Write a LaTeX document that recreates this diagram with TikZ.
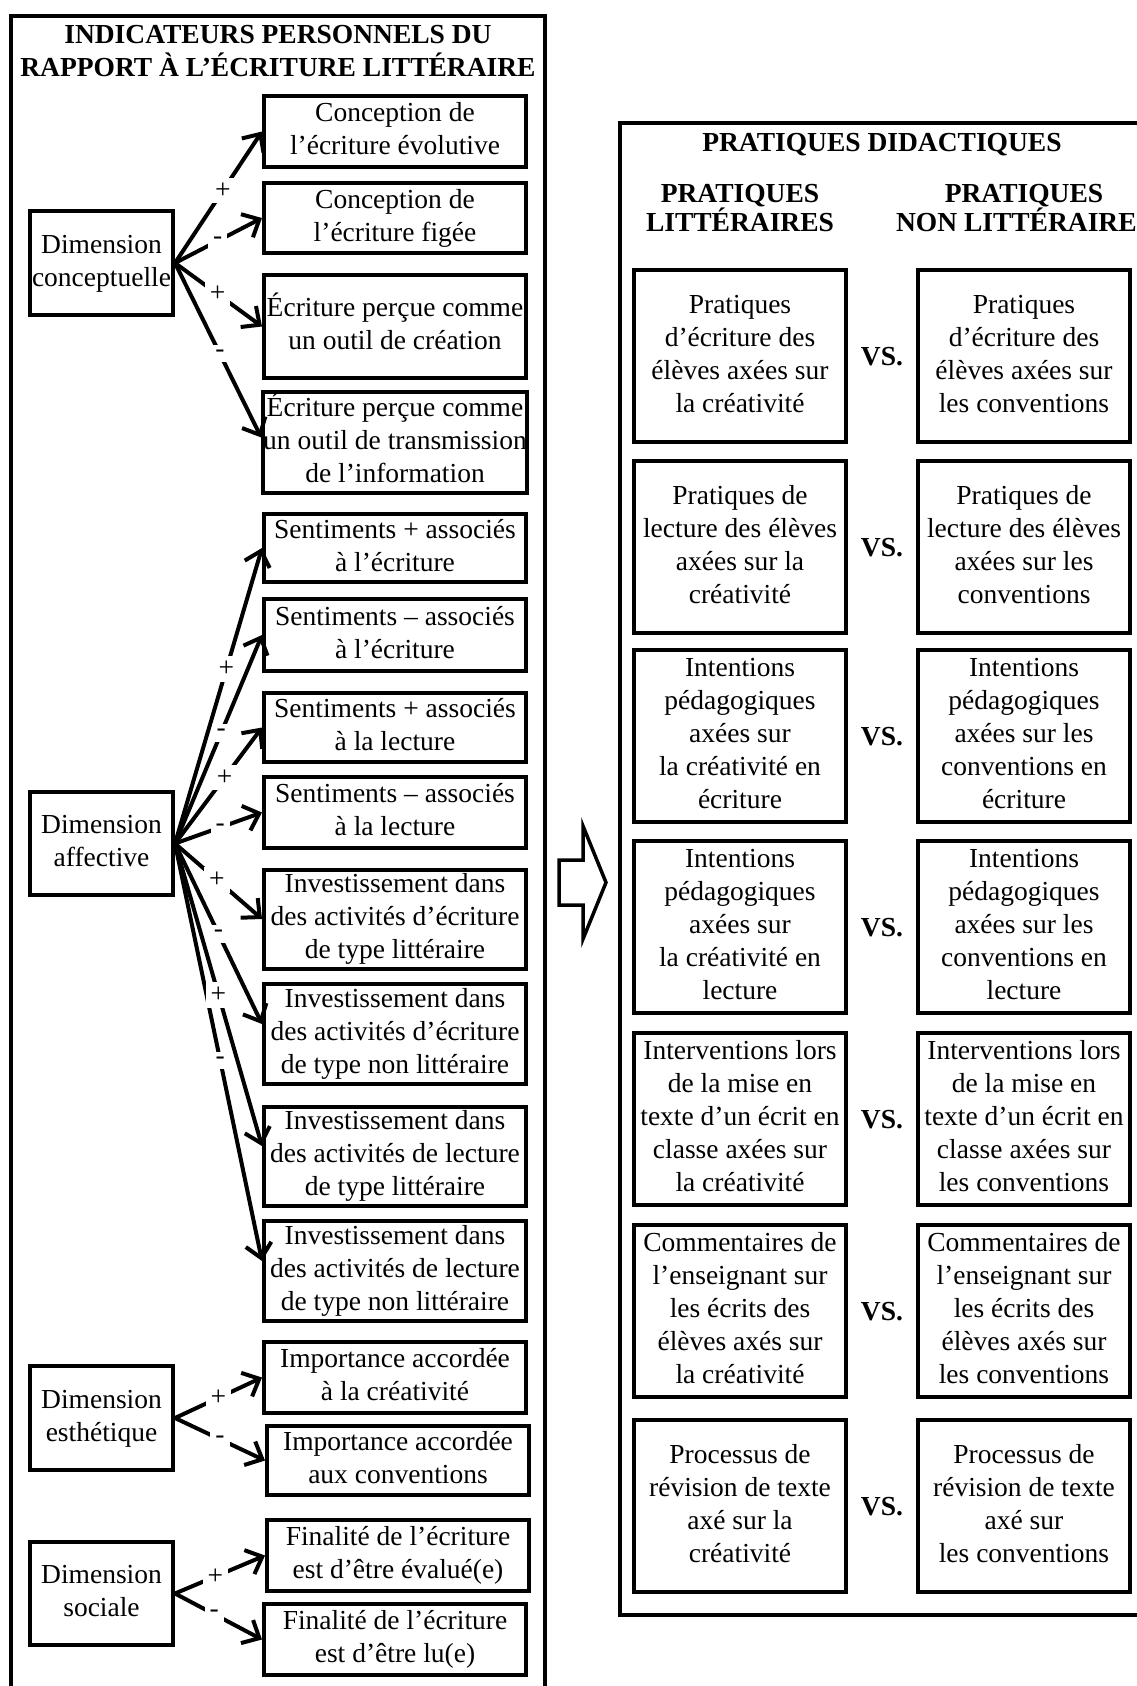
\documentclass[tikz,border=0pt]{standalone}
\usepackage{fontspec}
\setmainfont{Liberation Serif}
\usetikzlibrary{arrows.meta}
\newcommand{\myfs}{\fontsize{27.5}{33}\selectfont}
\newcommand{\bx}[6]{\node[box, minimum width={#4-#2-4}, minimum height={#5-#3-4}] (#1) at ({(#2+#4)/2},{(#3+#5)/2}) {\strut #6\strut};}
\begin{document}
\begin{tikzpicture}[x=1pt,y=-1pt,
  box/.style={draw, line width=4pt, inner xsep=0pt, inner ysep=0pt, align=center, font=\myfs},
  arr/.style={line width=4pt, -{Straight Barb[length=14pt,width=26pt]}},
  lab/.style={fill=white, inner sep=5pt, font=\myfs},
  hd/.style={font=\myfs\bfseries, anchor=base, inner sep=0pt},
  frame/.style={line width=4pt}
]
\useasboundingbox (0,0) rectangle (1136,1686);

% outer frames
\draw[frame] (11,16) rectangle (545,1720);
\draw[frame] (620,123) rectangle (1150,1615);

% left title
\node[hd] (t1) at (278,44) {INDICATEURS PERSONNELS DU};
\node[hd] (t2) at (278,77) {RAPPORT À L’ÉCRITURE LITTÉRAIRE};

% dimension boxes
\bx{d1}{28}{209}{175}{317}{Dimension\\conceptuelle}
\bx{d2}{28}{790}{175}{897}{Dimension\\affective}
\bx{d3}{28}{1364}{175}{1472}{Dimension\\esthétique}
\bx{d4}{28}{1540}{175}{1647}{Dimension\\sociale}

% indicator boxes
\bx{b1}{262}{94}{528}{169}{Conception de\\l’écriture évolutive}
\bx{b2}{262}{181}{528}{255}{Conception de\\l’écriture figée}
\bx{b3}{262}{273}{528}{380}{Écriture perçue comme\\un outil de création}
\bx{b4}{262}{390}{528}{495}{Écriture perçue comme\\un outil de transmission\\de l’information}
\bx{b5}{262}{512}{528}{584}{Sentiments + associés\\à l’écriture}
\bx{b6}{262}{597}{528}{673}{Sentiments – associés\\à l’écriture}
\bx{b7}{262}{691}{528}{764}{Sentiments + associés\\à la lecture}
\bx{b8}{262}{775}{528}{850}{Sentiments – associés\\à la lecture}
\bx{b9}{262}{868}{528}{970}{Investissement dans\\des activités d’écriture\\de type littéraire}
\bx{b10}{262}{982}{528}{1086}{Investissement dans\\des activités d’écriture\\de type non littéraire}
\bx{b11}{262}{1105}{528}{1207}{Investissement dans\\des activités de lecture\\de type littéraire}
\bx{b12}{262}{1219}{528}{1323}{Investissement dans\\des activités de lecture\\de type non littéraire}
\bx{b13}{262}{1340}{528}{1415}{Importance accordée\\à la créativité}
\bx{b14}{265}{1424}{531}{1497}{Importance accordée\\aux conventions}
\bx{b15}{265}{1518}{531}{1593}{Finalité de l’écriture\\est d’être évalué(e)}
\bx{b16}{262}{1602}{528}{1677}{Finalité de l’écriture\\est d’être lu(e)}

% arrows
\draw[arr] (d1.east) -- (b1.west);
\draw[arr] (d1.east) -- (b2.west);
\draw[arr] (d1.east) -- (b3.west);
\draw[arr] (d1.east) -- ([yshift=5pt]b4.west);
\draw[arr] (d2.east) -- (b5.west);
\draw[arr] (d2.east) -- (b6.west);
\draw[arr] (d2.east) -- (b7.west);
\draw[arr] (d2.east) -- (b8.west);
\draw[arr] (d2.east) -- (b9.west);
\draw[arr] (d2.east) -- ([yshift=10pt]b10.west);
\draw[arr] (d2.east) -- ([yshift=10pt]b11.west);
\draw[arr] (d2.east) -- ([yshift=10pt]b12.west);
\draw[arr] (d3.east) -- (b13.west);
\draw[arr] (d3.east) -- (b14.west);
\draw[arr] (d4.east) -- (b15.west);
\draw[arr] (d4.east) -- (b16.west);

% arrow labels
\path (d1.east) -- node[lab,pos=0.55]{+} (b1.west);
\path (d1.east) -- node[lab,pos=0.49]{-} (b2.west);
\path (d1.east) -- node[lab,pos=0.49]{+} (b3.west);
\path (d1.east) -- node[lab,pos=0.52]{-} ([yshift=5pt]b4.west);
\path (d2.east) -- node[lab,pos=0.59]{+} (b5.west);
\path (d2.east) -- node[lab,pos=0.53]{-} (b6.west);
\path (d2.east) -- node[lab,pos=0.57]{+} (b7.west);
\path (d2.east) -- node[lab,pos=0.52]{-} (b8.west);
\path (d2.east) -- node[lab,pos=0.48]{+} (b9.west);
\path (d2.east) -- node[lab,pos=0.50]{-} ([yshift=10pt]b10.west);
\path (d2.east) -- node[lab,pos=0.50]{+} ([yshift=10pt]b11.west);
\path (d2.east) -- node[lab,pos=0.52]{-} ([yshift=10pt]b12.west);
\path (d3.east) -- node[lab,pos=0.50]{+} (b13.west);
\path (d3.east) -- node[lab,pos=0.50]{-} (b14.west);
\path (d4.east) -- node[lab,pos=0.45]{+} (b15.west);
\path (d4.east) -- node[lab,pos=0.45]{-} (b16.west);

% big outline arrow
\draw[line width=3.5pt, line join=miter] (559,860) -- (583,860) -- (583,826) -- (606,882.5) -- (583,939) -- (583,905) -- (559,905) -- cycle;

% right panel headings
\node[hd] (rt) at (882,151) {PRATIQUES DIDACTIQUES};
\node[hd] (ra1) at (740,202) {PRATIQUES};
\node[hd] (ra2) at (740,231) {LITTÉRAIRES};
\node[hd] (rb1) at (1024,202) {PRATIQUES};
\node[hd] (rb2) at (1024,231) {NON LITTÉRAIRES};

% rows
\bx{l1}{632}{268}{848}{444}{Pratiques\\d’écriture des\\élèves axées sur\\la créativité}
\bx{r1}{916}{268}{1132}{444}{Pratiques\\d’écriture des\\élèves axées sur\\les conventions}
\node[hd] (v1) at (882,365) {VS.};

\bx{l2}{632}{459}{848}{635}{Pratiques de\\lecture des élèves\\axées sur la\\créativité}
\bx{r2}{916}{459}{1132}{635}{Pratiques de\\lecture des élèves\\axées sur les\\conventions}
\node[hd] (v2) at (882,556) {VS.};

\bx{l3}{632}{648}{848}{824}{Intentions\\pédagogiques\\axées sur\\la créativité en\\écriture}
\bx{r3}{916}{648}{1132}{824}{Intentions\\pédagogiques\\axées sur les\\conventions en\\écriture}
\node[hd] (v3) at (882,745) {VS.};

\bx{l4}{632}{839}{848}{1015}{Intentions\\pédagogiques\\axées sur\\la créativité en\\lecture}
\bx{r4}{916}{839}{1132}{1015}{Intentions\\pédagogiques\\axées sur les\\conventions en\\lecture}
\node[hd] (v4) at (882,936) {VS.};

\bx{l5}{632}{1031}{848}{1207}{Interventions lors\\de la mise en\\texte d’un écrit en\\classe axées sur\\la créativité}
\bx{r5}{916}{1031}{1132}{1207}{Interventions lors\\de la mise en\\texte d’un écrit en\\classe axées sur\\les conventions}
\node[hd] (v5) at (882,1128) {VS.};

\bx{l6}{632}{1223}{848}{1399}{Commentaires de\\l’enseignant sur\\les écrits des\\élèves axés sur\\la créativité}
\bx{r6}{916}{1223}{1132}{1399}{Commentaires de\\l’enseignant sur\\les écrits des\\élèves axés sur\\les conventions}
\node[hd] (v6) at (882,1320) {VS.};

\bx{l7}{632}{1418}{848}{1594}{Processus de\\révision de texte\\axé sur la\\créativité}
\bx{r7}{916}{1418}{1132}{1594}{Processus de\\révision de texte\\axé sur\\les conventions}
\node[hd] (v7) at (882,1515) {VS.};
\end{tikzpicture}
\end{document}
